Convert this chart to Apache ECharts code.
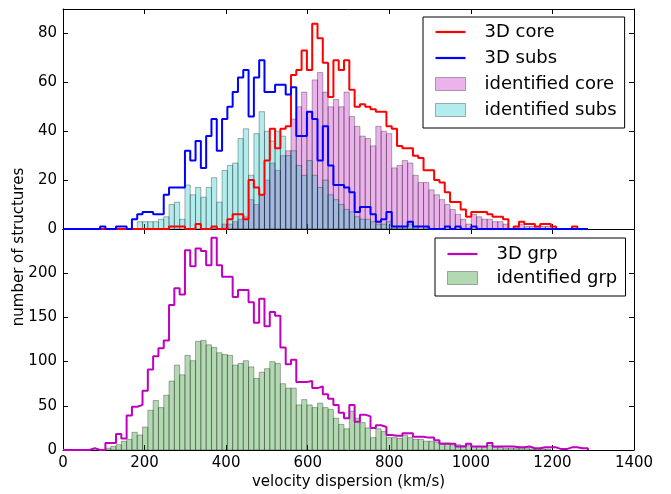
<!DOCTYPE html>
<html>
<head>
<meta charset="utf-8">
<script src="https://cdn.jsdelivr.net/npm/echarts@6/dist/echarts.min.js"></script>
<style>
html,body{margin:0;padding:0;background:#fff;}
#chart{width:671px;height:494px;}
</style>
</head>
<body>
<div id="chart"></div>
<script>
// histogram bins: width 13 km/s starting at 0
const binWidth = 13;

// top panel
const core3D = [0,0,0,0,0,0,0,0,0,0, 0,0,0,0,0,0,0,0,0,0,
  1,1,1,0,0,2,0,0,1,0, 0,4,6,6,4,20,17,14,28,41,
  33,41,42,63,65,73,65,84,78,68, 54,69,65,69,57,50,51,50,49,48,
  48,42,41,34,33,33,30,29,24,24, 20,19,15,11,11,8,5,7,7,7,
  6,5,5,4,0,1,3,2,2,1, 2,2,1,0,0,0,1,0,0];
const subs3D = [0,0,0,0,0,0,0,1,0,0, 1,1,0,4,6,7,7,6,6,14,
  17,17,17,32,28,36,25,38,45,32, 45,50,56,62,65,46,62,69,56,56,
  59,59,55,58,38,38,48,45,28,42, 26,18,18,17,15,7,9,9,6,3,
  4,7,1,1,1,3,1,1,1,0, 0,0,1,0,1,0,0,1,0,0,
  0,0,0,0,0,0,0,0,0,0, 0,0,0,0,0,0,0,0,0];
const coreId = [0,0,0,0,0,0,0,0,0,0, 0,0,0,0,0,0,0,0,0,0,
  0,0,0,0,0,0,0,0,1,0, 2,2,3,4,5,12,10,14,20,27,
  24,30,32,45,50,56,48,61,64,56, 50,53,50,56,46,42,38,37,34,42,
  40,39,25,26,28,27,22,19,19,16, 14,12,10,8,6,4,2,6,5,4,
  4,3,3,2,0,1,2,1,1,1, 1,1,0,0,0,0,0,0,0];
const subsId = [0,0,0,0,0,0,0,0,0,0, 0,0,0,0,3,3,3,3,4,5,
  10,11,4,18,14,17,13,17,21,11, 24,26,27,37,41,22,39,48,40,36,
  40,38,30,32,26,22,28,22,17,20, 14,12,10,8,7,5,4,4,3,2,
  2,3,1,1,1,2,1,0,1,0, 0,0,0,0,0,0,0,0,0,0,
  0,0,0,0,0,0,0,0,0,0, 0,0,0,0,0,0,0,0,0];

// bottom panel
const grp3D = [0,0,0,0,0,2,0,0,8,8, 18,13,39,49,51,67,91,106,115,124,
  164,183,176,226,208,228,225,209,240,209, 196,196,173,181,181,167,144,171,140,156,
  152,116,97,102,77,77,78,70,72,63, 58,51,42,36,51,32,40,38,25,28,
  26,17,16,16,19,19,15,15,14,14, 11,7,7,7,4,4,7,4,4,4,
  8,4,4,4,4,3,3,4,2,2, 3,3,3,1,1,3,3,2,2];
const grpId = [0,0,0,0,0,0,0,0,2,4, 6,10,12,20,17,26,45,56,48,62,
  78,96,85,107,101,123,124,119,116,110, 108,107,96,98,101,94,81,88,92,100,
  98,75,70,70,51,57,51,48,53,48, 46,36,29,24,44,36,31,25,14,24,
  21,14,14,13,17,14,12,12,10,10, 9,8,8,6,6,5,5,4,4,3,
  5,3,3,2,2,2,2,2,1,1, 1,1,0,0,0,0,0,0,0];

const xTicks = {min: 0, max: 1400, interval: 200};
const topY = {min: 0, max: 90, interval: 20};
const botY = {min: 0, max: 250, interval: 50};

function barData(vals){ return vals.map((v,i)=>[i*binWidth,(i+1)*binWidth,v]); }
function stepData(vals){
  const pts=[[0,0]];
  vals.forEach((v,i)=>{ pts.push([i*binWidth,v]); pts.push([(i+1)*binWidth,v]); });
  pts.push([vals.length*binWidth,0]);
  return pts;
}
function barRender(fill, stroke){
  return function(params, api){
    const v = api.value(2);
    if (!v) return null;
    const a = api.coord([api.value(0), v]);
    const b = api.coord([api.value(1), 0]);
    return {type:'rect', shape:{x:a[0], y:a[1], width:b[0]-a[0], height:b[1]-a[1]},
      style:{fill:fill, stroke:stroke, lineWidth:1}};
  };
}

const FONT = 'DejaVu Sans';
const C_CORE_ID = 'rgba(191,0,191,0.3)';
const C_SUBS_ID = 'rgba(0,191,191,0.3)';
const C_GRP_ID = 'rgba(0,128,0,0.3)';
const EDGE = 'rgba(0,0,0,0.3)';
const LINE_ICON = 'path://M0,0L30,0L30,2.2L0,2.2Z';

function xAxisDef(grid, pos, labels){
  return Object.assign({gridIndex:grid, type:'value', position:pos}, xTicks, {
    axisLine:{onZero:false, lineStyle:{color:'#000', width:1}},
    axisTick:{inside:true, length:5, lineStyle:{color:'#000'}},
    axisLabel:{show:labels, color:'#000', fontFamily:FONT, fontSize:15, margin:6,
               formatter:function(v){ return String(v); }},
    splitLine:{show:false}
  });
}
function yAxisDef(grid, pos, labels, rng){
  return Object.assign({gridIndex:grid, type:'value', position:pos}, rng, {
    axisLine:{onZero:false, lineStyle:{color:'#000', width:1}},
    axisTick:{inside:true, length:5, lineStyle:{color:'#000'}},
    axisLabel:{show:labels, showMaxLabel:false, color:'#000', fontFamily:FONT, fontSize:15, margin:6,
               formatter:function(v){ return String(v); }},
    splitLine:{show:false}
  });
}

const chart = echarts.init(document.getElementById('chart'), null, {renderer:'canvas'});
const xBottom = xAxisDef(1,'bottom',true);
xBottom.name = 'velocity dispersion (km/s)';
xBottom.nameLocation = 'middle';
xBottom.nameGap = 25;
xBottom.nameTextStyle = {color:'#000', fontFamily:FONT, fontSize:15};

const legendText = {color:'#000', fontFamily:FONT, fontSize:18, lineHeight:20, padding:[0,0,0,14]};

chart.setOption({
  animation:false,
  backgroundColor:'#fff',
  grid:[
    {left:63, right:37, top:9, height:220},
    {left:63, right:37, top:229, height:221}
  ],
  xAxis:[ xAxisDef(0,'bottom',false), xAxisDef(0,'top',false), xBottom, xAxisDef(1,'top',false) ],
  yAxis:[ yAxisDef(0,'left',true,topY), yAxisDef(0,'right',false,topY),
          yAxisDef(1,'left',true,botY), yAxisDef(1,'right',false,botY) ],
  legend:[
    {left:423, top:17, orient:'vertical', padding:[5,8,8,12], itemGap:6, itemWidth:30, itemHeight:13,
     backgroundColor:'#fff', borderColor:'#000', borderWidth:1, borderRadius:0,
     textStyle:Object.assign({width:132}, legendText),
     data:[
      {name:'3D core', icon:LINE_ICON, itemStyle:{color:'#ff0000', borderWidth:0}},
      {name:'3D subs', icon:LINE_ICON, itemStyle:{color:'#0000ff', borderWidth:0}},
      {name:'identified core', icon:'rect', itemStyle:{color:C_CORE_ID, borderColor:EDGE, borderWidth:1}},
      {name:'identified subs', icon:'rect', itemStyle:{color:C_SUBS_ID, borderColor:EDGE, borderWidth:1}}
     ]},
    {left:435, top:238, orient:'vertical', padding:[6,8,8,12], itemGap:4, itemWidth:30, itemHeight:13,
     backgroundColor:'#fff', borderColor:'#000', borderWidth:1, borderRadius:0,
     textStyle:Object.assign({width:121}, legendText),
     data:[
      {name:'3D grp', icon:LINE_ICON, itemStyle:{color:'#bf00bf', borderWidth:0}},
      {name:'identified grp', icon:'rect', itemStyle:{color:C_GRP_ID, borderColor:EDGE, borderWidth:1}}
     ]}
  ],
  graphic:[
    {type:'text', left:12, top:'middle', rotation:Math.PI/2, x:0,
     style:{text:'number of structures', fill:'#000', font:'15px "DejaVu Sans"'}}
  ],
  series:[
    {type:'custom', name:'identified core', xAxisIndex:0, yAxisIndex:0, clip:true,
     itemStyle:{color:C_CORE_ID}, renderItem:barRender(C_CORE_ID, EDGE),
     encode:{x:[0,1], y:2}, data:barData(coreId)},
    {type:'custom', name:'identified subs', xAxisIndex:0, yAxisIndex:0, clip:true,
     itemStyle:{color:C_SUBS_ID}, renderItem:barRender(C_SUBS_ID, EDGE),
     encode:{x:[0,1], y:2}, data:barData(subsId)},
    {type:'line', name:'3D core', xAxisIndex:0, yAxisIndex:0, symbol:'none', showSymbol:false,
     color:'#ff0000', lineStyle:{color:'#ff0000', width:2}, data:stepData(core3D)},
    {type:'line', name:'3D subs', xAxisIndex:0, yAxisIndex:0, symbol:'none', showSymbol:false,
     color:'#0000ff', lineStyle:{color:'#0000ff', width:2}, data:stepData(subs3D)},
    {type:'custom', name:'identified grp', xAxisIndex:2, yAxisIndex:2, clip:true,
     itemStyle:{color:C_GRP_ID}, renderItem:barRender(C_GRP_ID, EDGE),
     encode:{x:[0,1], y:2}, data:barData(grpId)},
    {type:'line', name:'3D grp', xAxisIndex:2, yAxisIndex:2, symbol:'none', showSymbol:false,
     color:'#bf00bf', lineStyle:{color:'#bf00bf', width:2}, data:stepData(grp3D)}
  ]
});
</script>
</body>
</html>
